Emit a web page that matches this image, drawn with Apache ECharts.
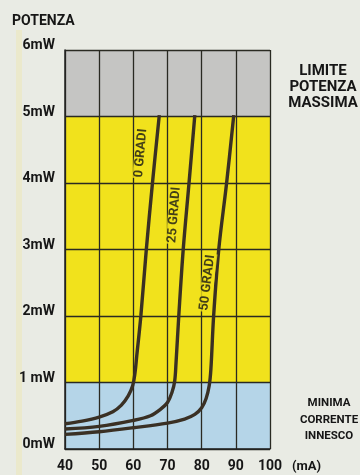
<!DOCTYPE html>
<html>
<head>
<meta charset="utf-8">
<script src="https://cdn.jsdelivr.net/npm/echarts@6/dist/echarts.min.js"></script>
<style>
  html, body { margin: 0; padding: 0; background: #e9ebe4; }
  #chart { width: 360px; height: 475px; }
</style>
</head>
<body>
<div id="chart"></div>
<script>
// Current (mA) ticks and power (mW) tick labels
const xTickLabels = ['40', '50', '60', '70', '80', '90', '100'];
const yTickLabels = ['0mW', '1 mW', '2mW', '3mW', '4mW', '5mW', '6mW'];

// Power vs. current curves, one per angle: [mA, mW]
const curveNames = ['0 GRADI', '25 GRADI', '50 GRADI'];
const curve0 = [[40, 0.38], [45, 0.42], [50, 0.48], [54, 0.56], [56.5, 0.66], [58.5, 0.8],
                [59.8, 0.95], [60.5, 1.15], [61, 1.4], [62.2, 2], [63.8, 3], [65.6, 4], [67.6, 5.02]];
const curve25 = [[40, 0.3], [50, 0.34], [60, 0.43], [65, 0.5], [68, 0.6], [70, 0.7],
                 [71.3, 0.85], [72.1, 1.02], [72.5, 1.3], [73.3, 2], [74.6, 3], [76.3, 4], [78, 5.02]];
const curve50 = [[40, 0.22], [50, 0.26], [60, 0.32], [70, 0.39], [75, 0.45], [78, 0.52],
                 [80, 0.62], [81.3, 0.76], [82.2, 0.95], [82.7, 1.2], [83.5, 2], [85, 3], [87.3, 4], [89.4, 5.02]];

// Operating zones (mW) and their notes
const bandRanges = [[0, 1], [1, 5], [5, 6]];
const bandNotes = ['MINIMA\nCORRENTE\nINNESCO', '', 'LIMITE\nPOTENZA\nMASSIMA'];

const FONT = "Roboto, 'Liberation Sans', sans-serif";
const INK = '#161616';
const bandColors = ['#b5d5e8', '#f1e21c', '#c5c5c3'];
const curveColor = '#3a3024';

const chart = echarts.init(document.getElementById('chart'), null, { renderer: 'canvas' });

const noteStyles = [
  { distance: 59, fontSize: 11.5, lineHeight: 16.5, offset: [0, 4] },
  null,
  { distance: 53, fontSize: 15, lineHeight: 15.7, offset: [0, 4] }
];

chart.setOption({
  backgroundColor: '#e9ebe4',
  animation: false,
  title: {
    text: 'POTENZA',
    left: 7, top: 9,
    textStyle: { fontFamily: FONT, fontWeight: 'bold', fontSize: 14, color: INK }
  },
  graphic: [{
    type: 'rect', silent: true, z: -1,
    shape: { x: 16, y: 30, width: 6, height: 445 },
    style: { fill: 'rgba(238, 232, 180, 0.5)' }
  }],
  grid: { left: 65, top: 50, width: 205, height: 399 },
  xAxis: {
    type: 'value', min: 40, max: 100, interval: 10, z: 2,
    name: '(mA)', nameLocation: 'end', nameGap: 22,
    nameTextStyle: { fontFamily: FONT, fontWeight: 'bold', fontSize: 13, color: INK,
                     align: 'left', verticalAlign: 'top', padding: [11, 0, 0, 0] },
    axisLine: { show: true, lineStyle: { color: '#222', width: 1.5 } },
    axisTick: { show: false },
    splitLine: { show: true, lineStyle: { color: '#2a2a22', width: 1.3 } },
    axisLabel: {
      margin: 10, fontFamily: FONT, fontWeight: 'bold', fontSize: 14, color: INK,
      formatter: (v) => xTickLabels[(v - 40) / 10]
    }
  },
  yAxis: {
    type: 'value', min: 0, max: 6, interval: 1, z: 2,
    axisLine: { show: true, lineStyle: { color: '#222', width: 1.5 } },
    axisTick: { show: false },
    splitLine: { show: true, lineStyle: { color: '#2a2a22', width: 1.3 } },
    axisLabel: {
      margin: 10, fontFamily: FONT, fontWeight: 'bold', fontSize: 14, color: INK,
      verticalAlign: 'bottom', lineHeight: 9,
      formatter: (v) => yTickLabels[v]
    }
  },
  series: [
    {
      name: 'zone', type: 'line', data: [], silent: true,
      markArea: {
        silent: true,
        data: bandRanges.map((r, i) => [
          {
            yAxis: r[0],
            itemStyle: { color: bandColors[i], opacity: 1 },
            label: noteStyles[i] ? {
              show: true, position: 'right', distance: noteStyles[i].distance,
              align: 'center', verticalAlign: 'middle', offset: noteStyles[i].offset,
              formatter: bandNotes[i],
              fontFamily: FONT, fontWeight: 'bold', color: INK,
              fontSize: noteStyles[i].fontSize, lineHeight: noteStyles[i].lineHeight
            } : { show: false }
          },
          { yAxis: r[1] }
        ])
      }
    },
    ...[curve0, curve25, curve50].map((d, i) => ({
      name: curveNames[i], type: 'line', data: d, z: 3,
      smooth: 0.35, showSymbol: false, silent: true,
      lineStyle: { color: curveColor, width: 3.4 }
    })),
    {
      name: 'curve names', type: 'scatter', z: 4, silent: true,
      symbolSize: 0,
      data: [
        { value: [62.2, 4.45], label: { rotate: 85 } },
        { value: [72.0, 3.52], label: { rotate: 85.5 } },
        { value: [81.7, 2.5], label: { rotate: 83 } }
      ],
      label: {
        show: true, position: 'inside',
        formatter: (p) => curveNames[p.dataIndex],
        fontFamily: FONT, fontWeight: 'bold', fontSize: 13, color: INK,
        backgroundColor: bandColors[1], padding: [0, 1]
      }
    }
  ]
});
</script>
</body>
</html>
